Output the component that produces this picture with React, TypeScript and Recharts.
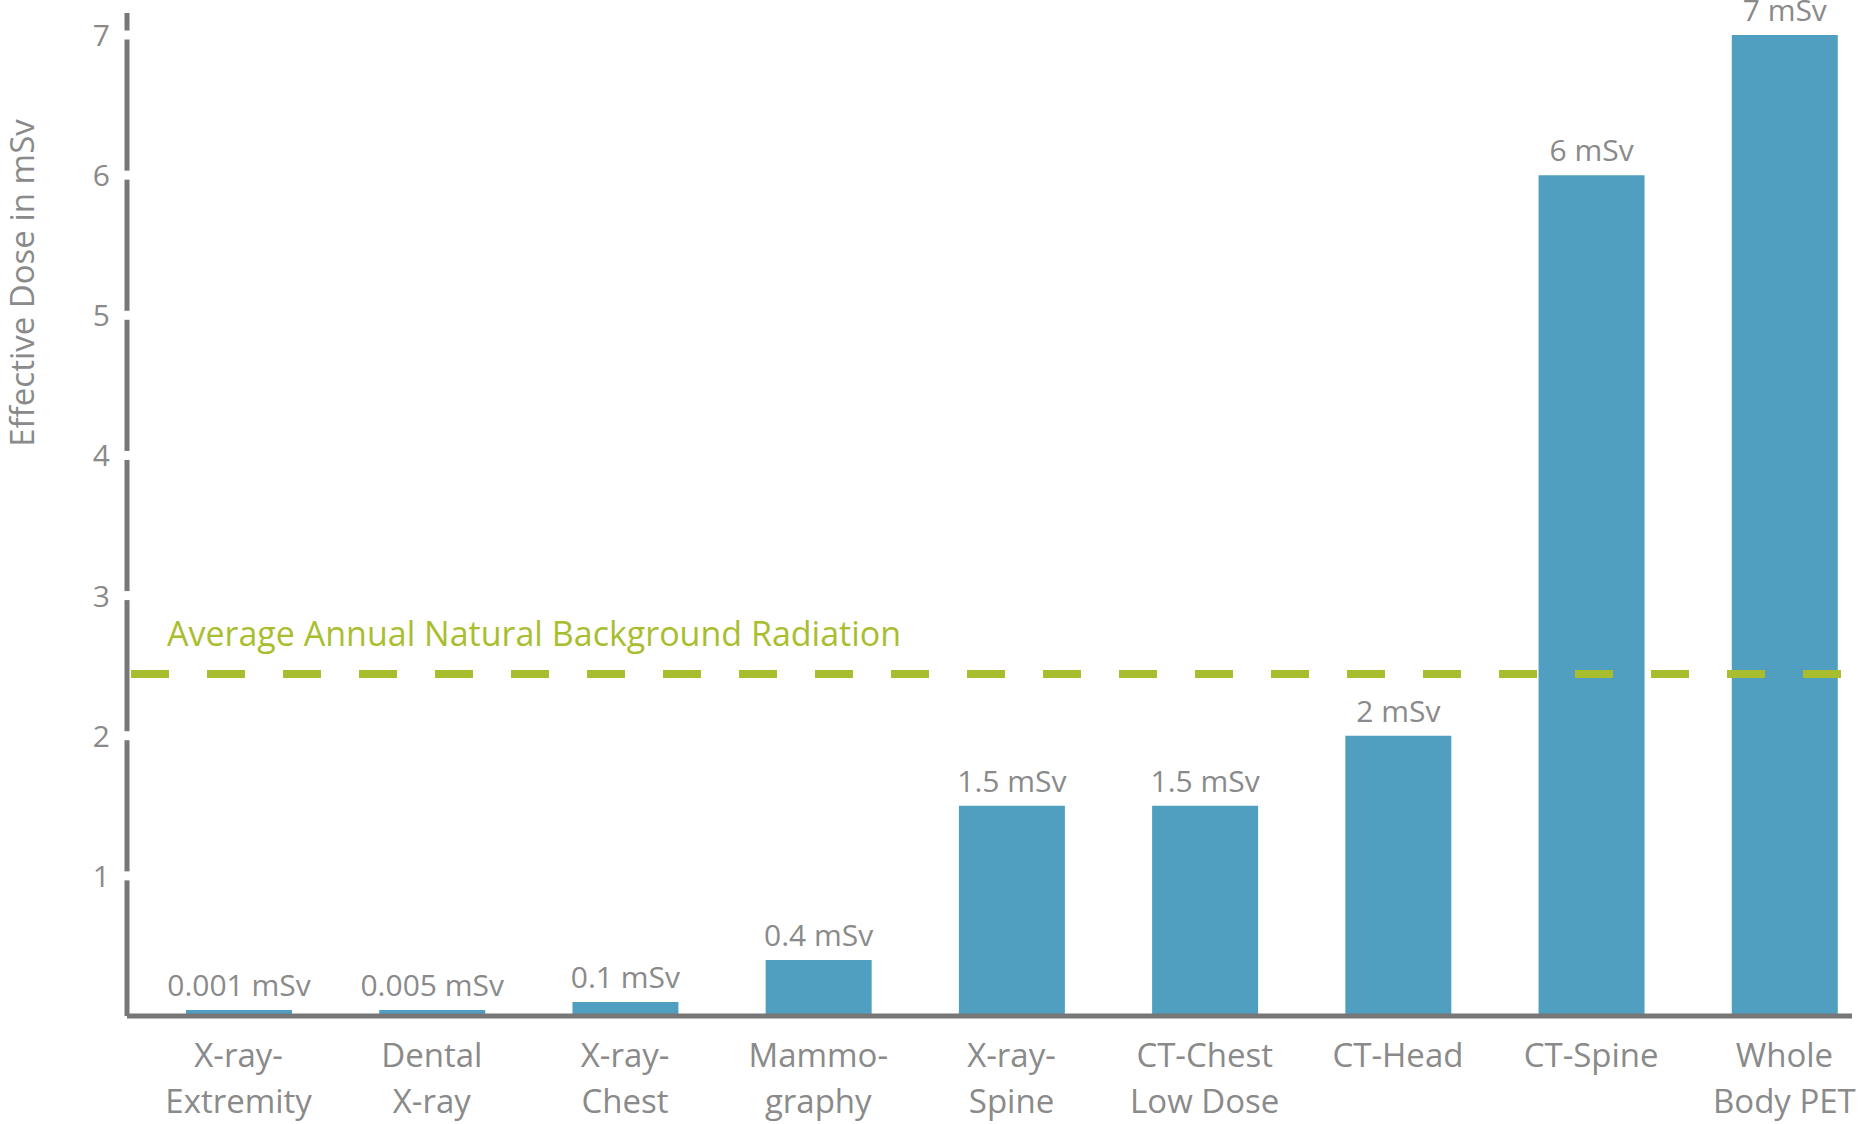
import React from "react";
import { BarChart, Bar, XAxis, YAxis, ReferenceLine, LabelList, Label } from "recharts";

const categories = [
  "X-ray-\nExtremity",
  "Dental\nX-ray",
  "X-ray-\nChest",
  "Mammo-\ngraphy",
  "X-ray-\nSpine",
  "CT-Chest\nLow Dose",
  "CT-Head",
  "CT-Spine",
  "Whole\nBody PET",
];
const doses = [0.001, 0.005, 0.1, 0.4, 1.5, 1.5, 2, 6, 7];
const yTicks = [1, 2, 3, 4, 5, 6, 7];
const backgroundDose = 2.44;

const data = categories.map((name, i) => ({ name, dose: doses[i] }));

const FONT = "'Open Sans', 'DejaVu Sans', sans-serif";
const GRAY = "#8a8a8a";
const AXIS = "#777777";
const GREEN = "#a9be2f";

const XTick = ({ x, y, payload }: any) => {
  const lines = String(payload.value).split("\n");
  return (
    <text x={x} y={y} textAnchor="middle" fill={GRAY} fontSize={33} fontFamily={FONT}>
      {lines.map((l, i) => (
        <tspan key={i} x={x} dy={i === 0 ? 51 : 46}>
          {l}
        </tspan>
      ))}
    </text>
  );
};

// white notch over the axis line at every tick, then the number
const YTick = ({ x, y, payload }: any) => (
  <g>
    <rect x={x - 4} y={y - 4.5} width={8} height={9} fill="#ffffff" />
    <text x={x - 17} y={y + 11} textAnchor="end" fill={GRAY} fontSize={30} fontFamily={FONT}>
      {payload.value}
    </text>
  </g>
);

const YTitle = ({ viewBox }: any) => {
  const x = viewBox.x + 22;
  const y = viewBox.y + 270;
  return (
    <text
      x={x}
      y={y}
      dy="0.35em"
      transform={`rotate(-90, ${x}, ${y})`}
      textAnchor="middle"
      fill={GRAY}
      fontSize={33}
      fontFamily={FONT}
    >
      Effective Dose in mSv
    </text>
  );
};

const BgLabel = ({ viewBox }: any) => (
  <text x={viewBox.x + 40} y={viewBox.y - 28} fill={GREEN} fontSize={34} fontFamily={FONT}>
    Average Annual Natural Background Radiation
  </text>
);

export default function App() {
  return (
    <div style={{ position: "absolute", left: 0, top: 0 }}>
      <BarChart
        width={1876}
        height={1124}
        data={data}
        margin={{ top: 13, right: 24, bottom: 8, left: 0 }}
      >
        <XAxis
          dataKey="name"
          interval={0}
          height={100}
          padding={{ left: 15, right: -29 }}
          tickLine={false}
          tickSize={0}
          tickMargin={0}
          axisLine={{ stroke: AXIS, strokeWidth: 5 }}
          tick={<XTick />}
        />
        <YAxis
          width={127}
          domain={[0, 7.157]}
          ticks={yTicks}
          interval={0}
          tickLine={false}
          tickSize={0}
          tickMargin={0}
          axisLine={{ stroke: AXIS, strokeWidth: 5 }}
          tick={<YTick />}
        >
          <Label content={<YTitle />} />
        </YAxis>
        <Bar dataKey="dose" fill="#519fc0" barSize={106} minPointSize={6} isAnimationActive={false}>
          <LabelList
            dataKey="dose"
            position="top"
            offset={14}
            formatter={(v: any) => `${v} mSv`}
            fill={GRAY}
            fontSize={30}
            fontFamily={FONT}
          />
        </Bar>
        <ReferenceLine
          y={backgroundDose}
          stroke={GREEN}
          strokeWidth={8}
          strokeDasharray="38 38"
          strokeDashoffset={72}
        >
          <Label content={<BgLabel />} />
        </ReferenceLine>
      </BarChart>
    </div>
  );
}
